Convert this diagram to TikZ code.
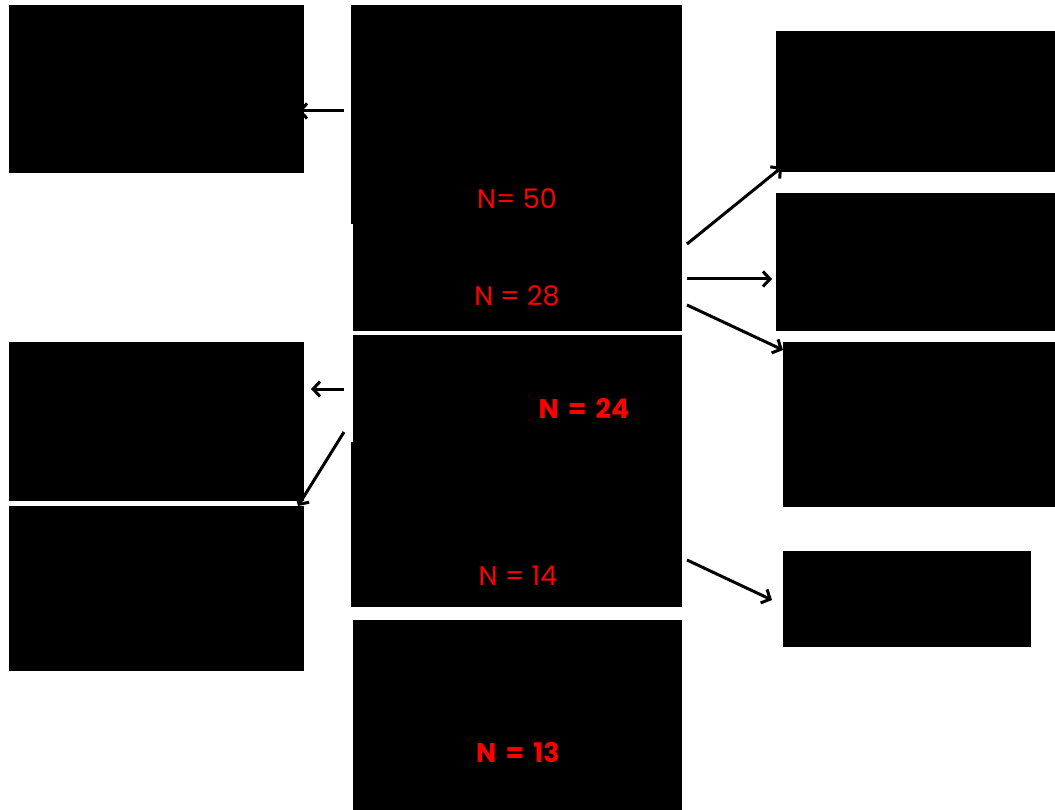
\documentclass[tikz,border=0pt]{standalone}
\usepackage{fontspec}
\setmainfont{Poppins}
\usetikzlibrary{arrows.meta}
\begin{document}
\begin{tikzpicture}[x=1pt,y=-1pt,
  blk/.style={fill=black,draw=none,inner sep=0pt,outer sep=0pt,rectangle},
  lbl/.style={text=red,font=\fontsize{27}{30}\selectfont,inner sep=0pt,anchor=center},
  lblb/.style={text=red,font=\fontsize{27}{30}\selectfont\bfseries,inner sep=0pt,anchor=center},
  arr/.style={line width=3pt,-{Straight Barb[length=7pt,width=15pt,line width=3pt]}}]
\useasboundingbox[fill=white] (0,0) rectangle (1055,810);
% boxes as named nodes: \blkbox{name}{x1}{y1}{x2}{y2}
\newcommand\blkbox[5]{\path (#2,#3) -- (#4,#5) node[blk,pos=0.5,minimum width={(#4-#2)*1pt},minimum height={(#5-#3)*1pt}] (#1) {};}
% left boxes
\blkbox{L1}{9}{5}{304}{173}
\blkbox{L2}{9}{342}{304}{501}
\blkbox{L3}{9}{506}{304}{671}
% center boxes
\blkbox{C1}{351}{5}{682}{224}
\blkbox{C2}{353}{224}{682}{331}
\blkbox{C3}{353}{335}{682}{442}
\blkbox{C4}{351}{442}{682}{607}
\blkbox{C5}{353}{620}{682}{810}
% right boxes
\blkbox{R1}{776}{31}{1055}{172}
\blkbox{R2}{776}{193}{1055}{331}
\blkbox{R3}{783}{342}{1055}{507}
\blkbox{R4}{783}{551}{1031}{647}
% labels
\node[lbl] (n50) at (517,199) {N= 50};
\node[lbl] (n28) at (517,296) {N = 28};
\node[lblb] (n24) at (584,408) {N\hspace{9pt}=\hspace{9pt}24};
\node[lbl] (n14) at (518,576) {N = 14};
\node[lblb] (n13) at (518,752) {N\hspace{9pt}=\hspace{9pt}13};
% arrow endpoints
\coordinate (a1s) at (344,111); \coordinate (a1e) at (298,111);
\coordinate (a2s) at (344,389); \coordinate (a2e) at (311,389);
\coordinate (a3s) at (344,432); \coordinate (a3e) at (298,506);
\coordinate (a4s) at (687,244); \coordinate (a4e) at (782,167);
\coordinate (a5s) at (687,279); \coordinate (a5e) at (772,279);
\coordinate (a6s) at (687,305); \coordinate (a6e) at (783,350);
\coordinate (a7s) at (687,560); \coordinate (a7e) at (772,600);
\draw[arr] (a1s) -- (a1e);
\draw[arr] (a2s) -- (a2e);
\draw[arr] (a3s) -- (a3e);
\draw[arr] (a4s) -- (a4e);
\draw[arr] (a5s) -- (a5e);
\draw[arr] (a6s) -- (a6e);
\draw[arr] (a7s) -- (a7e);
\end{tikzpicture}
\end{document}
